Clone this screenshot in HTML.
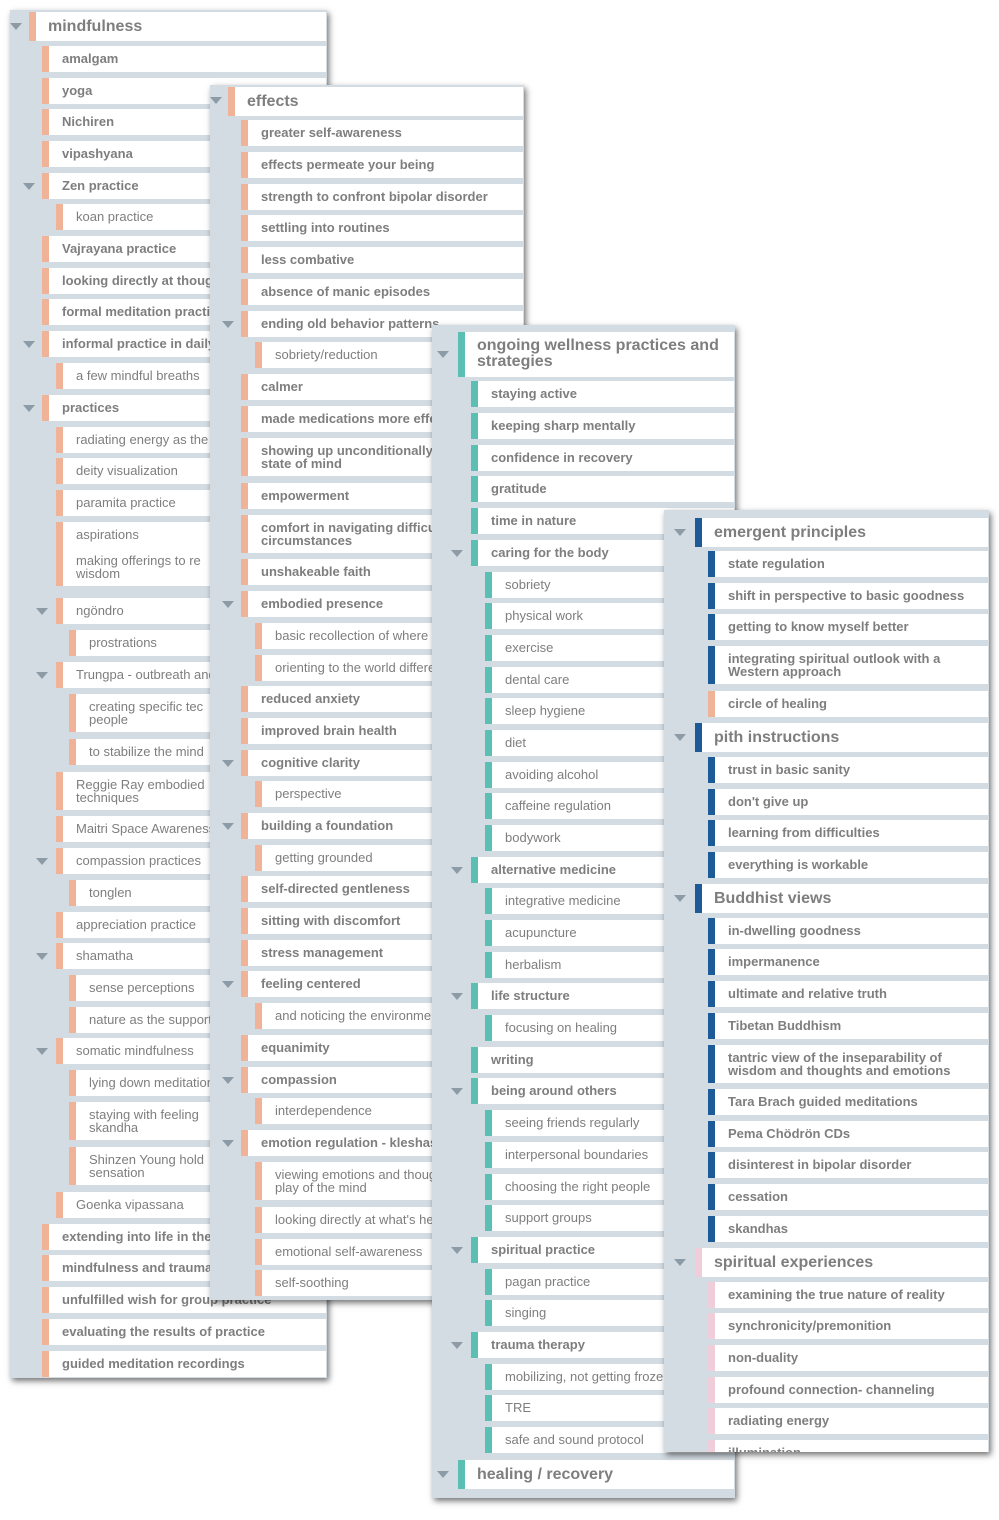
<!DOCTYPE html>
<html><head><meta charset="utf-8"><style>
body{margin:0;width:999px;height:1520px;background:#fff;position:relative;overflow:hidden;font-family:"Liberation Sans",sans-serif;}
.p{position:absolute;background:#d3dce3;overflow:hidden;box-shadow:2px 3px 6px rgba(0,0,0,.55);}
.r{position:absolute;right:1px;height:26px;background:#fff;border-left:7px solid #f0b398;padding-left:13px;box-sizing:border-box;font-size:13px;line-height:26px;font-weight:bold;color:#7e7e7e;white-space:nowrap;overflow:hidden;}
.h{height:29px;line-height:29px;font-size:16px;padding-left:12px;}
.n{font-weight:normal;}
.t{height:38px;line-height:13px;padding-top:6px;white-space:normal;}
.tr{position:absolute;width:0;height:0;border-left:6px solid transparent;border-right:6px solid transparent;border-top:7px solid #8c9ba6;}
.p3 .r{border-left-color:#5cbfb4}
.p4 .r{border-left-color:#1d5a98}
.p4 .r.s{border-left-color:#f0b398}
.p4 .r.k{border-left-color:#efcdd9}
.p1 .a{left:19px}.p1 .b{left:32px}.p1 .c{left:46px}.p1 .d{left:59px}
.p2 .a{left:18px}.p2 .b{left:31px}.p2 .c{left:45px}
.p3 .a{left:26px}.p3 .b{left:39px}.p3 .c{left:53px}
.p4 .a{left:31px}.p4 .b{left:44px}
</style></head><body>

<div class="p p1" style="left:10px;top:10px;width:317px;height:1368px;">
<div class="tr" style="left:0;top:13px"></div>
<div class="r h a" style="top:2px">mindfulness</div>
<div class="r b" style="top:36px">amalgam</div>
<div class="r b" style="top:68px">yoga</div>
<div class="r b" style="top:99px">Nichiren</div>
<div class="r b" style="top:131px">vipashyana</div>
<div class="tr" style="left:13px;top:173px"></div>
<div class="r b" style="top:163px">Zen practice</div>
<div class="r c n" style="top:194px">koan practice</div>
<div class="r b" style="top:226px">Vajrayana practice</div>
<div class="r b" style="top:258px">looking directly at thoughts</div>
<div class="r b" style="top:289px">formal meditation practice</div>
<div class="tr" style="left:13px;top:331px"></div>
<div class="r b" style="top:321px">informal practice in daily life</div>
<div class="r c n" style="top:353px">a few mindful breaths</div>
<div class="tr" style="left:13px;top:395px"></div>
<div class="r b" style="top:385px">practices</div>
<div class="r c n" style="top:417px">radiating energy as the</div>
<div class="r c n" style="top:448px">deity visualization</div>
<div class="r c n" style="top:480px">paramita practice</div>
<div class="r c n" style="top:512px">aspirations</div>
<div class="r c n t" style="top:538px">making offerings to re<br>wisdom</div>
<div class="tr" style="left:26px;top:598px"></div>
<div class="r c n" style="top:588px">ngöndro</div>
<div class="r d n" style="top:620px">prostrations</div>
<div class="tr" style="left:26px;top:662px"></div>
<div class="r c n" style="top:652px">Trungpa - outbreath and</div>
<div class="r d n t" style="top:684px">creating specific tec<br>people</div>
<div class="r d n" style="top:729px">to stabilize the mind</div>
<div class="r c n t" style="top:762px">Reggie Ray embodied<br>techniques</div>
<div class="r c n" style="top:806px">Maitri Space Awareness</div>
<div class="tr" style="left:26px;top:848px"></div>
<div class="r c n" style="top:838px">compassion practices</div>
<div class="r d n" style="top:870px">tonglen</div>
<div class="r c n" style="top:902px">appreciation practice</div>
<div class="tr" style="left:26px;top:943px"></div>
<div class="r c n" style="top:933px">shamatha</div>
<div class="r d n" style="top:965px">sense perceptions</div>
<div class="r d n" style="top:997px">nature as the support</div>
<div class="tr" style="left:26px;top:1038px"></div>
<div class="r c n" style="top:1028px">somatic mindfulness</div>
<div class="r d n" style="top:1060px">lying down meditation</div>
<div class="r d n t" style="top:1092px">staying with feeling<br>skandha</div>
<div class="r d n t" style="top:1137px">Shinzen Young hold<br>sensation</div>
<div class="r c n" style="top:1182px">Goenka vipassana</div>
<div class="r b" style="top:1214px">extending into life in the</div>
<div class="r b" style="top:1245px">mindfulness and trauma</div>
<div class="r b" style="top:1277px">unfulfilled wish for group practice</div>
<div class="r b" style="top:1309px">evaluating the results of practice</div>
<div class="r b" style="top:1341px">guided meditation recordings</div>
</div>

<div class="p p2" style="left:210px;top:85px;width:314px;height:1215px;">
<div class="tr" style="left:0;top:12px"></div>
<div class="r h a" style="top:2px">effects</div>
<div class="r b" style="top:35px">greater self-awareness</div>
<div class="r b" style="top:67px">effects permeate your being</div>
<div class="r b" style="top:99px">strength to confront bipolar disorder</div>
<div class="r b" style="top:130px">settling into routines</div>
<div class="r b" style="top:162px">less combative</div>
<div class="r b" style="top:194px">absence of manic episodes</div>
<div class="tr" style="left:12px;top:236px"></div>
<div class="r b" style="top:226px">ending old behavior patterns</div>
<div class="r c n" style="top:257px">sobriety/reduction</div>
<div class="r b" style="top:289px">calmer</div>
<div class="r b" style="top:321px">made medications more effective</div>
<div class="r b t" style="top:353px">showing up unconditionally<br>state of mind</div>
<div class="r b" style="top:398px">empowerment</div>
<div class="r b t" style="top:430px">comfort in navigating difficult<br>circumstances</div>
<div class="r b" style="top:474px">unshakeable faith</div>
<div class="tr" style="left:12px;top:516px"></div>
<div class="r b" style="top:506px">embodied presence</div>
<div class="r c n" style="top:538px">basic recollection of where</div>
<div class="r c n" style="top:570px">orienting to the world differently</div>
<div class="r b" style="top:601px">reduced anxiety</div>
<div class="r b" style="top:633px">improved brain health</div>
<div class="tr" style="left:12px;top:675px"></div>
<div class="r b" style="top:665px">cognitive clarity</div>
<div class="r c n" style="top:696px">perspective</div>
<div class="tr" style="left:12px;top:738px"></div>
<div class="r b" style="top:728px">building a foundation</div>
<div class="r c n" style="top:760px">getting grounded</div>
<div class="r b" style="top:791px">self-directed gentleness</div>
<div class="r b" style="top:823px">sitting with discomfort</div>
<div class="r b" style="top:855px">stress management</div>
<div class="tr" style="left:12px;top:896px"></div>
<div class="r b" style="top:886px">feeling centered</div>
<div class="r c n" style="top:918px">and noticing the environment</div>
<div class="r b" style="top:950px">equanimity</div>
<div class="tr" style="left:12px;top:992px"></div>
<div class="r b" style="top:982px">compassion</div>
<div class="r c n" style="top:1013px">interdependence</div>
<div class="tr" style="left:12px;top:1055px"></div>
<div class="r b" style="top:1045px">emotion regulation - kleshas</div>
<div class="r c n t" style="top:1077px">viewing emotions and thoughts as<br>play of the mind</div>
<div class="r c n" style="top:1122px">looking directly at what's here</div>
<div class="r c n" style="top:1154px">emotional self-awareness</div>
<div class="r c n" style="top:1185px">self-soothing</div>
</div>

<div class="p p3" style="left:432px;top:325px;width:303px;height:1173px;">
<div class="tr" style="left:5px;top:26px"></div>
<div class="r h a t" style="top:7px;height:45px;font-size:16px;line-height:16px;padding-top:6px">ongoing wellness practices and strategies</div>
<div class="r b" style="top:56px">staying active</div>
<div class="r b" style="top:88px">keeping sharp mentally</div>
<div class="r b" style="top:120px">confidence in recovery</div>
<div class="r b" style="top:151px">gratitude</div>
<div class="r b" style="top:183px">time in nature</div>
<div class="tr" style="left:19px;top:225px"></div>
<div class="r b" style="top:215px">caring for the body</div>
<div class="r c n" style="top:247px">sobriety</div>
<div class="r c n" style="top:278px">physical work</div>
<div class="r c n" style="top:310px">exercise</div>
<div class="r c n" style="top:342px">dental care</div>
<div class="r c n" style="top:373px">sleep hygiene</div>
<div class="r c n" style="top:405px">diet</div>
<div class="r c n" style="top:437px">avoiding alcohol</div>
<div class="r c n" style="top:468px">caffeine regulation</div>
<div class="r c n" style="top:500px">bodywork</div>
<div class="tr" style="left:19px;top:542px"></div>
<div class="r b" style="top:532px">alternative medicine</div>
<div class="r c n" style="top:563px">integrative medicine</div>
<div class="r c n" style="top:595px">acupuncture</div>
<div class="r c n" style="top:627px">herbalism</div>
<div class="tr" style="left:19px;top:668px"></div>
<div class="r b" style="top:658px">life structure</div>
<div class="r c n" style="top:690px">focusing on healing</div>
<div class="r b" style="top:722px">writing</div>
<div class="tr" style="left:19px;top:763px"></div>
<div class="r b" style="top:753px">being around others</div>
<div class="r c n" style="top:785px">seeing friends regularly</div>
<div class="r c n" style="top:817px">interpersonal boundaries</div>
<div class="r c n" style="top:849px">choosing the right people</div>
<div class="r c n" style="top:880px">support groups</div>
<div class="tr" style="left:19px;top:922px"></div>
<div class="r b" style="top:912px">spiritual practice</div>
<div class="r c n" style="top:944px">pagan practice</div>
<div class="r c n" style="top:975px">singing</div>
<div class="tr" style="left:19px;top:1017px"></div>
<div class="r b" style="top:1007px">trauma therapy</div>
<div class="r c n" style="top:1039px">mobilizing, not getting frozen</div>
<div class="r c n" style="top:1070px">TRE</div>
<div class="r c n" style="top:1102px">safe and sound protocol</div>
<div class="tr" style="left:5px;top:1146px"></div>
<div class="r h a" style="top:1135px">healing / recovery</div>
</div>

<div class="p p4" style="left:664px;top:510px;width:325px;height:942px;">
<div class="tr" style="left:10px;top:19px"></div>
<div class="r h a" style="top:8px">emergent principles</div>
<div class="r b" style="top:41px">state regulation</div>
<div class="r b" style="top:73px">shift in perspective to basic goodness</div>
<div class="r b" style="top:104px">getting to know myself better</div>
<div class="r b t" style="top:136px">integrating spiritual outlook with a<br>Western approach</div>
<div class="r b s" style="top:181px">circle of healing</div>
<div class="tr" style="left:10px;top:224px"></div>
<div class="r h a" style="top:213px">pith instructions</div>
<div class="r b" style="top:247px">trust in basic sanity</div>
<div class="r b" style="top:279px">don't give up</div>
<div class="r b" style="top:310px">learning from difficulties</div>
<div class="r b" style="top:342px">everything is workable</div>
<div class="tr" style="left:10px;top:385px"></div>
<div class="r h a" style="top:374px">Buddhist views</div>
<div class="r b" style="top:408px">in-dwelling goodness</div>
<div class="r b" style="top:439px">impermanence</div>
<div class="r b" style="top:471px">ultimate and relative truth</div>
<div class="r b" style="top:503px">Tibetan Buddhism</div>
<div class="r b t" style="top:535px">tantric view of the inseparability of<br>wisdom and thoughts and emotions</div>
<div class="r b" style="top:579px">Tara Brach guided meditations</div>
<div class="r b" style="top:611px">Pema Chödrön CDs</div>
<div class="r b" style="top:642px">disinterest in bipolar disorder</div>
<div class="r b" style="top:674px">cessation</div>
<div class="r b" style="top:706px">skandhas</div>
<div class="tr" style="left:10px;top:749px"></div>
<div class="r h a k" style="top:738px">spiritual experiences</div>
<div class="r b k" style="top:772px">examining the true nature of reality</div>
<div class="r b k" style="top:803px">synchronicity/premonition</div>
<div class="r b k" style="top:835px">non-duality</div>
<div class="r b k" style="top:867px">profound connection- channeling</div>
<div class="r b k" style="top:898px">radiating energy</div>
<div class="r b k" style="top:930px">illumination</div>
</div>

</body></html>
